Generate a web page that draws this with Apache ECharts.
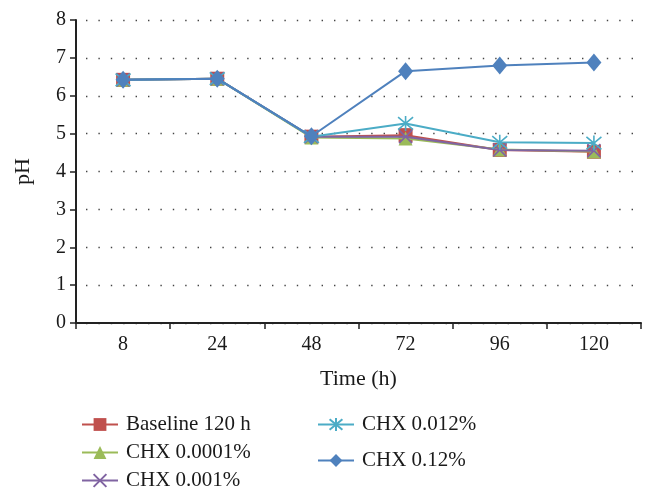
<!DOCTYPE html>
<html>
<head>
<meta charset="utf-8">
<script src="https://cdn.jsdelivr.net/npm/echarts@6/dist/echarts.min.js"></script>
<style>
    html, body { margin: 0; padding: 0; background: #fff; }
    #chart { width: 648px; height: 499px; }
</style>
</head>
<body>
<div id="chart"></div>
<script>
// categories and tick labels
const timeLabels = ['8', '24', '48', '72', '96', '120'];
const seriesNames = ['Baseline 120 h', 'CHX 0.0001%', 'CHX 0.001%', 'CHX 0.012%', 'CHX 0.12%'];

// pH values
const baseline = [6.42, 6.45, 4.92, 4.96, 4.57, 4.52];
const chx00001 = [6.42, 6.45, 4.90, 4.87, 4.58, 4.53];
const chx0001 = [6.42, 6.45, 4.92, 4.92, 4.57, 4.55];
const chx0012 = [6.42, 6.45, 4.92, 5.27, 4.77, 4.75];
const chx012 = [6.42, 6.45, 4.93, 6.65, 6.80, 6.88];

const colors = ['#C0504D', '#9BBB59', '#8064A2', '#4BACC6', '#4F81BD'];
const FONT = '"Liberation Serif", "DejaVu Serif", serif';

const crossPath = 'path://M0,0L10,10M10,0L0,10';
const starPath = 'path://M0,0L10,10M10,0L0,10M5,-1L5,11';

const symbols = ['rect', 'triangle', crossPath, starPath, 'diamond'];
const symbolSizes = [14, 14, 13, 15, [15, 18]];
const values = [baseline, chx00001, chx0001, chx0012, chx012];

const chart = echarts.init(document.getElementById('chart'));

const series = values.map((data, i) => {
    const isStroke = i === 2 || i === 3;
    return {
        name: seriesNames[i],
        type: 'line',
        data: data,
        symbol: symbols[i],
        symbolSize: symbolSizes[i],
        showAllSymbol: true,
        lineStyle: { color: colors[i], width: 2 },
        itemStyle: {
            color: isStroke ? 'none' : colors[i],
            borderColor: colors[i],
            borderWidth: isStroke ? 1.6 : 0
        },
        emphasis: { disabled: true },
        z: 2 + i
    };
});

const legendText = { fontFamily: FONT, fontSize: 21, color: '#1a1a1a', padding: [0, 0, 0, 3] };

chart.setOption({
    animation: false,
    color: colors,
    grid: { left: 76, right: 7, top: 20, bottom: 176 },
    legend: [
        {
            data: seriesNames.slice(0, 3),
            orient: 'vertical',
            left: 76,
            top: 409,
            itemWidth: 36,
            itemHeight: 16,
            itemGap: 7,
            textStyle: legendText
        },
        {
            data: seriesNames.slice(3),
            orient: 'vertical',
            left: 312,
            top: 409,
            itemWidth: 36,
            itemHeight: 16,
            itemGap: 15,
            textStyle: legendText
        }
    ],
    xAxis: {
        type: 'category',
        data: timeLabels,
        name: 'Time (h)',
        nameLocation: 'middle',
        nameGap: 45,
        nameTextStyle: { fontFamily: FONT, fontSize: 22, color: '#1a1a1a' },
        axisLine: { lineStyle: { color: '#222', width: 2 } },
        axisTick: { show: true, length: 6, lineStyle: { color: '#222', width: 1.5 } },
        axisLabel: { fontFamily: FONT, fontSize: 20, color: '#1a1a1a', margin: 12 },
        splitLine: { show: false }
    },
    yAxis: {
        type: 'value',
        min: 0,
        max: 8,
        interval: 1,
        name: 'pH',
        nameLocation: 'middle',
        nameGap: 42,
        nameTextStyle: { fontFamily: FONT, fontSize: 22, color: '#1a1a1a' },
        axisLine: { show: true, lineStyle: { color: '#222', width: 2 } },
        axisTick: { show: true, length: 6, lineStyle: { color: '#222', width: 1.5 } },
        axisLabel: { fontFamily: FONT, fontSize: 20, color: '#1a1a1a', margin: 10 },
        splitLine: {
            show: true,
            lineStyle: { color: '#444', width: 1.4, type: [1.4, 11], dashOffset: -10 }
        }
    },
    series: series
});
</script>
</body>
</html>
